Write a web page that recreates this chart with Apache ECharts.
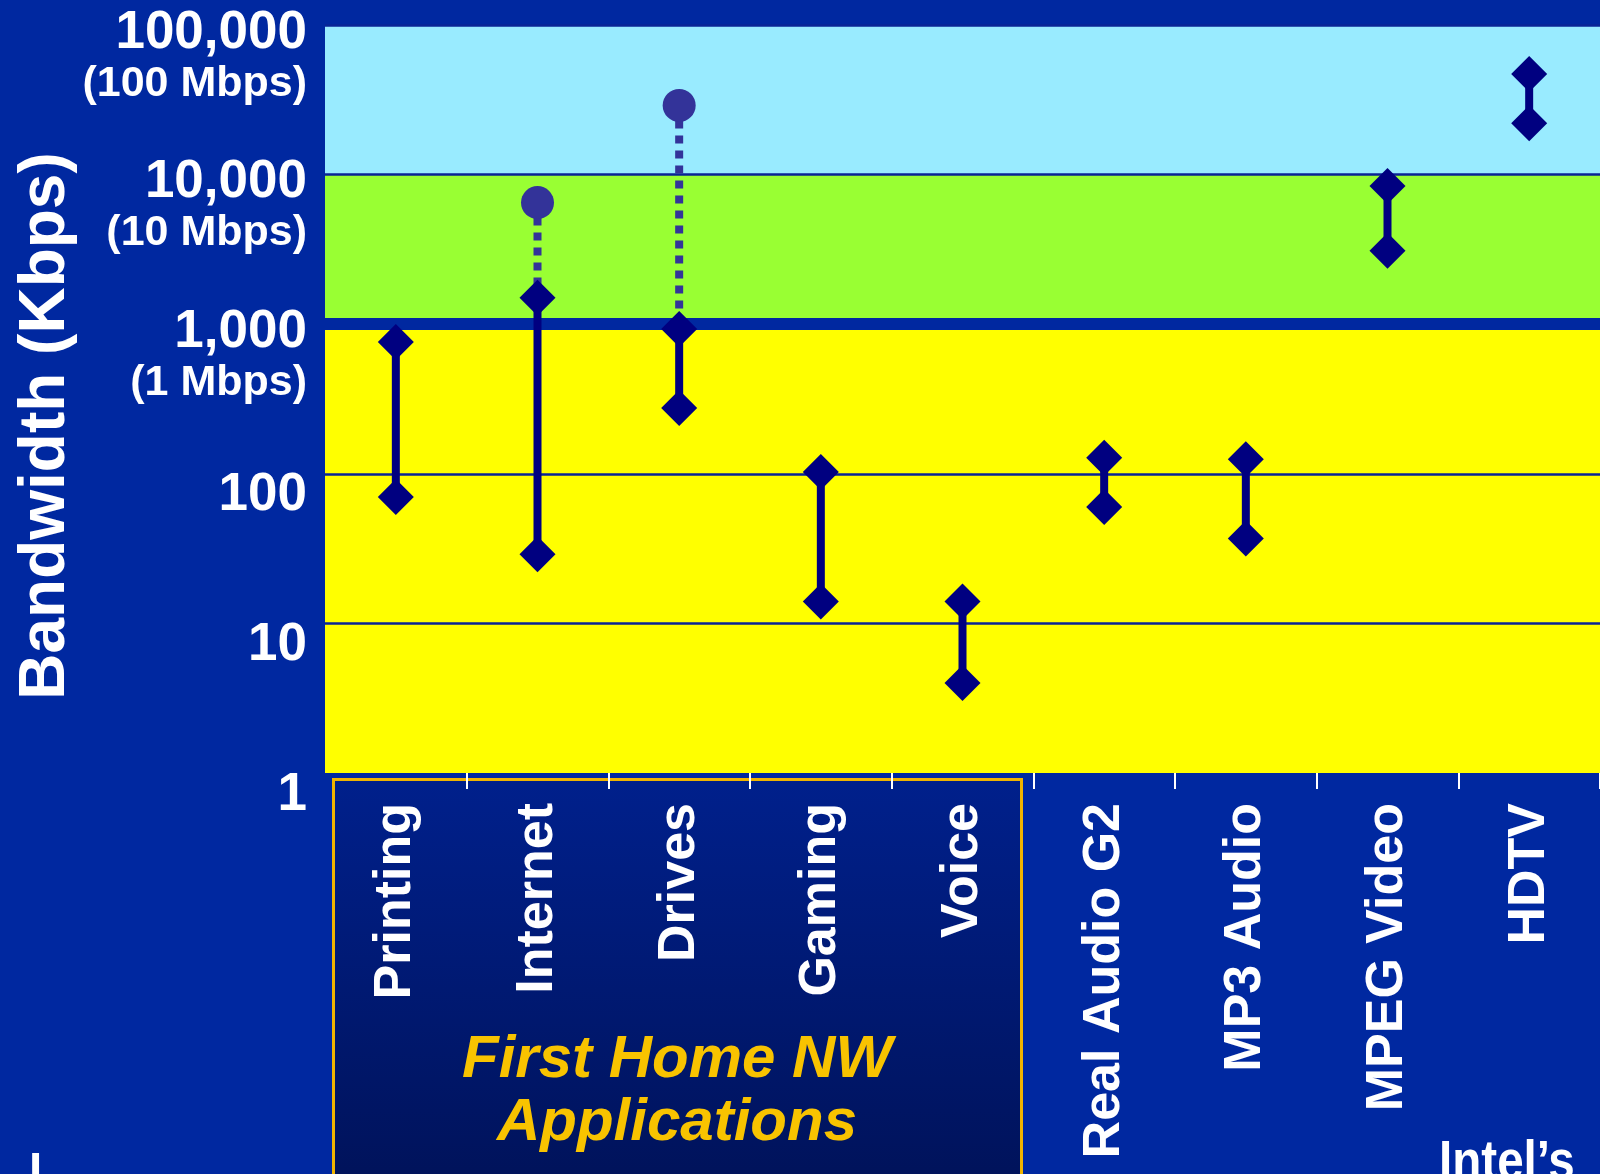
<!DOCTYPE html>
<html>
<head>
<meta charset="utf-8">
<title>Home network bandwidth</title>
<script src="https://cdn.jsdelivr.net/npm/echarts@6/dist/echarts.min.js"></script>
<style>
  html, body { margin: 0; padding: 0; background: #0028a0; }
  #chart { width: 1600px; height: 1174px; }
</style>
</head>
<body>
<div id="chart"></div>
<script>
  // applications on the x axis
  const categories = ['Printing', 'Internet', 'Drives', 'Gaming', 'Voice',
    'Real Audio G2', 'MP3 Audio', 'MPEG Video', 'HDTV']
  // bandwidth range in Kbps
  const lowKbps = [70, 29, 275, 14, 4, 60, 37, 3100, 22000]
  const highKbps = [760, 1500, 930, 103, 14, 128, 125, 8400, 47000]
  // future peak (dotted extension), only for some apps
  const peakKbps = [null, 6500, 29000, null, null, null, null, null, null]

  // y axis tick labels
  const yTickValues = [1, 10, 100, 1000, 10000, 100000]
  const yTickMain = ['1', '10', '100', '1,000', '10,000', '100,000']
  const yTickSub = ['', '', '', '(1 Mbps)', '(10 Mbps)', '(100 Mbps)']

  const BG = '#0028a0'
  const NAVY = '#000080'
  const PEAK = '#333399'
  const FONT = '"Liberation Sans", Arial, Helvetica, sans-serif'

  const rangeData = categories.map((c, i) => [i, lowKbps[i], highKbps[i]])
  const endPoints = []
  categories.forEach((c, i) => {
    endPoints.push([i, lowKbps[i]])
    endPoints.push([i, highKbps[i]])
  })
  const peakRange = []
  const peakPoints = []
  peakKbps.forEach((p, i) => {
    if (p != null) {
      peakRange.push([i, p, highKbps[i]])
      peakPoints.push([i, p])
    }
  })

  function vline (stroke, width, dash) {
    return function (params, api) {
      const a = api.coord([api.value(0), api.value(1)])
      const b = api.coord([api.value(0), api.value(2)])
      return {
        type: 'line',
        shape: { x1: a[0], y1: a[1], x2: b[0], y2: b[1] },
        style: { stroke: stroke, lineWidth: width, lineDash: dash || null, lineCap: 'butt' }
      }
    }
  }

  // condensed white caption with a drop shadow
  function caption (text, x, y) {
    return {
      type: 'text',
      z: 10,
      x: x,
      y: y,
      scaleX: 0.85,
      style: {
        text: text,
        x: 0,
        y: 0,
        align: 'left',
        verticalAlign: 'middle',
        font: 'bold 56px ' + FONT,
        fill: '#ffffff',
        textShadowColor: '#000000',
        textShadowOffsetX: 2,
        textShadowOffsetY: 2
      }
    }
  }

  const chart = echarts.init(document.getElementById('chart'))
  chart.setOption({
    backgroundColor: BG,
    animation: false,
    textStyle: { fontFamily: FONT },
    grid: { left: 325, top: 25, width: 1282, height: 748 },
    xAxis: {
      type: 'category',
      data: categories,
      boundaryGap: true,
      axisLine: { show: false },
      axisTick: {
        show: true,
        interval: (i) => i > 0,
        length: 16,
        lineStyle: { color: '#ffffff', width: 2 }
      },
      axisLabel: {
        interval: 0,
        rotate: 90,
        margin: 30,
        color: '#ffffff',
        fontSize: 52,
        fontWeight: 'bold',
        fontFamily: FONT
      }
    },
    yAxis: {
      type: 'log',
      logBase: 10,
      min: 1,
      max: 100000,
      name: 'Bandwidth (Kbps)',
      nameLocation: 'middle',
      nameGap: 247,
      nameMoveOverlap: false,
      nameTextStyle: {
        color: '#ffffff',
        fontSize: 64,
        fontWeight: 'bold',
        fontFamily: FONT,
        padding: [0, 54, 0, 0]
      },
      axisLine: { show: false },
      axisTick: { show: false },
      axisLabel: {
        margin: 18,
        padding: [44, 0, 0, 0],
        color: '#ffffff',
        formatter: function (v) {
          const k = yTickValues.indexOf(Math.round(v))
          if (k < 0) return ''
          if (yTickSub[k]) return '{a|' + yTickMain[k] + '}\n{b|' + yTickSub[k] + '}'
          return '{s|' + yTickMain[k] + '}'
        },
        rich: {
          s: { color: '#fff', fontSize: 53, fontWeight: 'bold', lineHeight: 52, fontFamily: FONT, align: 'right' },
          a: { color: '#fff', fontSize: 53, fontWeight: 'bold', lineHeight: 74, fontFamily: FONT, align: 'right' },
          b: { color: '#fff', fontSize: 43, fontWeight: 'bold', lineHeight: 28, fontFamily: FONT, align: 'right' }
        }
      },
      splitArea: {
        show: true,
        areaStyle: { color: ['#ffff00', '#ffff00', '#ffff00', '#99ff33', '#99ebff'] }
      },
      splitLine: {
        show: true,
        showMinLine: false,
        lineStyle: { color: '#0a2496', width: 2.5 }
      }
    },
    graphic: [
      {
        type: 'rect',
        z: -1,
        shape: { x: 333.5, y: 779.5, width: 688, height: 420 },
        style: {
          fill: new echarts.graphic.LinearGradient(0, 0, 0, 1, [
            { offset: 0, color: '#00208c' },
            { offset: 1, color: '#001258' }
          ]),
          stroke: '#f0b400',
          lineWidth: 3
        }
      },
      {
        type: 'text',
        z: 10,
        style: {
          text: 'First Home NW\nApplications',
          x: 677,
          y: 1092,
          align: 'center',
          verticalAlign: 'middle',
          lineHeight: 63,
          font: 'italic bold 60px ' + FONT,
          fill: '#f8c300',
          textShadowColor: '#000000',
          textShadowOffsetX: 3,
          textShadowOffsetY: 3
        }
      },
      caption('Intel\u2019s', 1439, 1164),
      caption('I', 29, 1176)
    ],
    series: [
      {
        name: 'range',
        type: 'custom',
        data: rangeData,
        encode: { x: 0, y: [1, 2] },
        renderItem: vline(NAVY, 8),
        silent: true,
        // thick divider at 1 Mbps
        markLine: {
          silent: true,
          z: 1,
          symbol: 'none',
          label: { show: false },
          lineStyle: { color: BG, width: 12, type: 'solid' },
          data: [{ yAxis: 1000 }]
        }
      },
      {
        name: 'ends',
        type: 'scatter',
        data: endPoints,
        symbol: 'diamond',
        symbolSize: 36,
        itemStyle: { color: NAVY, opacity: 1 },
        silent: true
      },
      {
        name: 'peak range',
        type: 'custom',
        data: peakRange,
        encode: { x: 0, y: [1, 2] },
        renderItem: vline(PEAK, 8, [8, 7]),
        silent: true
      },
      {
        name: 'peak',
        type: 'scatter',
        data: peakPoints,
        symbol: 'circle',
        symbolSize: 33,
        itemStyle: { color: PEAK, opacity: 1 },
        silent: true
      }
    ]
  })
</script>
</body>
</html>
